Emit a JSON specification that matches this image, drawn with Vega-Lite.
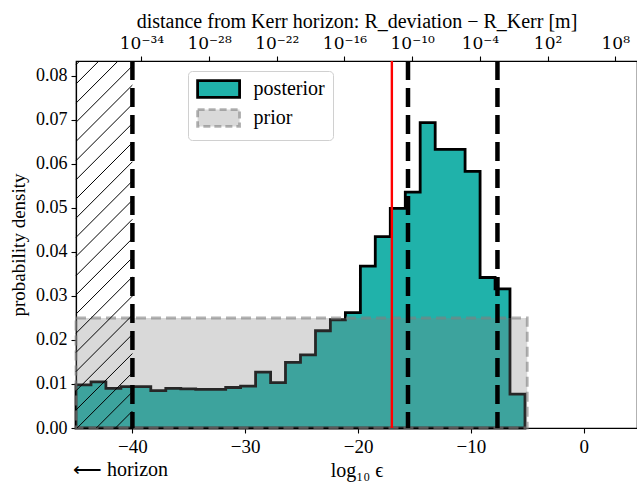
{
  "$schema": "https://vega.github.io/schema/vega-lite/v6.json",
  "width": 561,
  "height": 367,
  "autosize": {"type": "none"},
  "padding": {"left": 76, "top": 61, "right": 0, "bottom": 55},
  "config": {
    "font": "Liberation Serif",
    "view": {"stroke": "black", "strokeWidth": 1.2},
    "axis": {
      "labelFont": "Liberation Serif", "titleFont": "Liberation Serif",
      "labelFontSize": 19, "titleFontSize": 20, "titleFontWeight": "normal",
      "labelColor": "black", "titleColor": "black",
      "domainColor": "black", "domainWidth": 1.2,
      "tickColor": "black", "tickSize": 5, "tickWidth": 1.1,
      "grid": false, "labelPadding": 4
    },
    "legend": {
      "orient": "none", "legendX": 112, "legendY": 10,
      "symbolType": "M-2.5,-1H2.5V1H-2.5Z", "symbolSize": 282,
      "symbolStrokeWidth": 2.8, "symbolOffset": 12.6,
      "labelFont": "Liberation Serif", "labelFontSize": 20, "labelColor": "black",
      "labelOffset": 25, "rowPadding": 1, "padding": 8,
      "fillColor": "white", "strokeColor": "#d0d0d0", "cornerRadius": 4
    }
  },
  "datasets": {
    "posterior": [
      {"series": "posterior", "eps": -45.00, "density": 0.0098},
      {"series": "posterior", "eps": -43.67, "density": 0.0105},
      {"series": "posterior", "eps": -42.35, "density": 0.0090},
      {"series": "posterior", "eps": -41.02, "density": 0.0094},
      {"series": "posterior", "eps": -39.69, "density": 0.0094},
      {"series": "posterior", "eps": -38.37, "density": 0.0085},
      {"series": "posterior", "eps": -37.04, "density": 0.0090},
      {"series": "posterior", "eps": -35.71, "density": 0.0089},
      {"series": "posterior", "eps": -34.39, "density": 0.0088},
      {"series": "posterior", "eps": -33.06, "density": 0.0088},
      {"series": "posterior", "eps": -31.73, "density": 0.0092},
      {"series": "posterior", "eps": -30.41, "density": 0.0095},
      {"series": "posterior", "eps": -29.08, "density": 0.0127},
      {"series": "posterior", "eps": -27.75, "density": 0.0103},
      {"series": "posterior", "eps": -26.43, "density": 0.0149},
      {"series": "posterior", "eps": -25.10, "density": 0.0166},
      {"series": "posterior", "eps": -23.77, "density": 0.0221},
      {"series": "posterior", "eps": -22.45, "density": 0.0246},
      {"series": "posterior", "eps": -21.12, "density": 0.0262},
      {"series": "posterior", "eps": -19.79, "density": 0.0368},
      {"series": "posterior", "eps": -18.47, "density": 0.0435},
      {"series": "posterior", "eps": -17.14, "density": 0.0499},
      {"series": "posterior", "eps": -15.81, "density": 0.0536},
      {"series": "posterior", "eps": -14.49, "density": 0.0694},
      {"series": "posterior", "eps": -13.16, "density": 0.0633},
      {"series": "posterior", "eps": -11.83, "density": 0.0633},
      {"series": "posterior", "eps": -10.51, "density": 0.0583},
      {"series": "posterior", "eps": -9.18, "density": 0.0342},
      {"series": "posterior", "eps": -7.85, "density": 0.0316},
      {"series": "posterior", "eps": -6.53, "density": 0.0077},
      {"series": "posterior", "eps": -5.20, "density": 0.0077}
    ],
    "prior": [
      {"series": "prior", "lo": -45, "hi": -5, "density": 0.025}
    ],
    "hatch": [
      {"x1": -41.5, "y1": 0, "x2": -40, "y2": 0.00385},
      {"x1": -43.2, "y1": 0, "x2": -40, "y2": 0.0082},
      {"x1": -44.9, "y1": 0, "x2": -40, "y2": 0.01256},
      {"x1": -45, "y1": 0.0041, "x2": -40, "y2": 0.01692},
      {"x1": -45, "y1": 0.00846, "x2": -40, "y2": 0.02128},
      {"x1": -45, "y1": 0.01282, "x2": -40, "y2": 0.02564},
      {"x1": -45, "y1": 0.01718, "x2": -40, "y2": 0.03},
      {"x1": -45, "y1": 0.02153, "x2": -40, "y2": 0.03435},
      {"x1": -45, "y1": 0.02589, "x2": -40, "y2": 0.03871},
      {"x1": -45, "y1": 0.03025, "x2": -40, "y2": 0.04307},
      {"x1": -45, "y1": 0.03461, "x2": -40, "y2": 0.04743},
      {"x1": -45, "y1": 0.03897, "x2": -40, "y2": 0.05178},
      {"x1": -45, "y1": 0.04332, "x2": -40, "y2": 0.05614},
      {"x1": -45, "y1": 0.04768, "x2": -40, "y2": 0.0605},
      {"x1": -45, "y1": 0.05204, "x2": -40, "y2": 0.06486},
      {"x1": -45, "y1": 0.0564, "x2": -40, "y2": 0.06922},
      {"x1": -45, "y1": 0.06076, "x2": -40, "y2": 0.07358},
      {"x1": -45, "y1": 0.06512, "x2": -40, "y2": 0.07793},
      {"x1": -45, "y1": 0.06947, "x2": -40, "y2": 0.08229},
      {"x1": -45, "y1": 0.07383, "x2": -41.27, "y2": 0.0834},
      {"x1": -45, "y1": 0.07819, "x2": -42.97, "y2": 0.0834},
      {"x1": -45, "y1": 0.08255, "x2": -44.67, "y2": 0.0834}
    ],
    "bounds": [
      {"eps": -40},
      {"eps": -15.57},
      {"eps": -7.64}
    ],
    "truth": [
      {"eps": -17.0}
    ],
    "notes": [
      {"label": "⟵ horizon"}
    ]
  },
  "layer": [
    {
      "data": {"name": "posterior"},
      "mark": {"type": "area", "interpolate": "step-after", "strokeWidth": 2.8, "strokeJoin": "miter"},
      "encoding": {
        "x": {
          "field": "eps", "type": "quantitative",
          "scale": {"domain": [-45, 4.73], "nice": false, "zero": false},
          "axis": {"orient": "bottom", "values": [-40, -30, -20, -10, 0], "title": "log₁₀ ϵ", "titlePadding": 4}
        },
        "y": {
          "field": "density", "type": "quantitative", "stack": null,
          "title": "probability density",
          "scale": {"domain": [0, 0.0834], "nice": false},
          "axis": {"values": [0, 0.01, 0.02, 0.03, 0.04, 0.05, 0.06, 0.07, 0.08], "format": ".2f", "labelFontSize": 18, "titleFontSize": 19, "titlePadding": 7}
        },
        "fill": {
          "field": "series", "type": "nominal",
          "scale": {"domain": ["posterior", "prior"], "range": ["#20b2aa", "rgba(128,128,128,0.3)"]},
          "legend": {"title": null, "encode": {"symbols": {"update": {"strokeDash": {"signal": "datum.value === 'prior' ? [7, 4] : [1, 0]"}}}}}
        },
        "stroke": {
          "field": "series", "type": "nominal",
          "scale": {"domain": ["posterior", "prior"], "range": ["black", "rgba(128,128,128,0.6)"]},
          "legend": {"title": null, "encode": {"symbols": {"update": {"strokeDash": {"signal": "datum.value === 'prior' ? [7, 4] : [1, 0]"}}}}}
        }
      }
    },
    {
      "data": {"name": "prior"},
      "mark": {"type": "rect", "strokeWidth": 2.8, "strokeDash": [10, 5]},
      "encoding": {
        "x": {"field": "lo", "type": "quantitative", "axis": null},
        "x2": {"field": "hi"},
        "y": {"field": "density", "type": "quantitative", "title": "probability density"},
        "y2": {"datum": 0},
        "fill": {"field": "series", "type": "nominal", "legend": {"title": null}},
        "stroke": {"field": "series", "type": "nominal", "legend": {"title": null}}
      }
    },
    {
      "data": {"name": "hatch"},
      "mark": {"type": "rule", "color": "black", "strokeWidth": 1},
      "encoding": {
        "x": {"field": "x1", "type": "quantitative", "axis": null},
        "y": {"field": "y1", "type": "quantitative", "title": "probability density"},
        "x2": {"field": "x2"},
        "y2": {"field": "y2"}
      }
    },
    {
      "data": {"name": "bounds"},
      "mark": {"type": "rule", "color": "black", "strokeWidth": 4.5, "strokeDash": [19, 8]},
      "encoding": {
        "x": {
          "field": "eps", "type": "quantitative",
          "scale": {"domain": [-45, 4.73], "nice": false, "zero": false},
          "axis": {
            "orient": "top",
            "values": [-39.2, -33.2, -27.2, -21.2, -15.2, -9.2, -3.2, 2.8],
            "labelFont": "DejaVu Serif", "labelFontSize": 17,
            "labelExpr": "datum.value < -36 ? '10⁻³⁴' : datum.value < -30 ? '10⁻²⁸' : datum.value < -24 ? '10⁻²²' : datum.value < -18 ? '10⁻¹⁶' : datum.value < -12 ? '10⁻¹⁰' : datum.value < -6 ? '10⁻⁴' : datum.value < 0 ? '10²' : '10⁸'",
            "title": "distance from Kerr horizon: R_deviation − R_Kerr [m]",
            "titlePadding": 3
          }
        }
      }
    },
    {
      "data": {"name": "truth"},
      "mark": {"type": "rule", "color": "#ff0000", "strokeWidth": 2.4},
      "encoding": {
        "x": {"field": "eps", "type": "quantitative", "axis": null}
      }
    },
    {
      "data": {"name": "notes"},
      "mark": {"type": "text", "align": "right", "baseline": "middle", "fontSize": 20, "font": "Liberation Serif", "color": "black", "clip": false},
      "encoding": {
        "x": {"datum": -36.84, "type": "quantitative", "axis": null},
        "y": {"datum": -0.0095, "type": "quantitative", "title": "probability density"},
        "text": {"field": "label"}
      }
    }
  ],
  "resolve": {"axis": {"x": "independent"}}
}
